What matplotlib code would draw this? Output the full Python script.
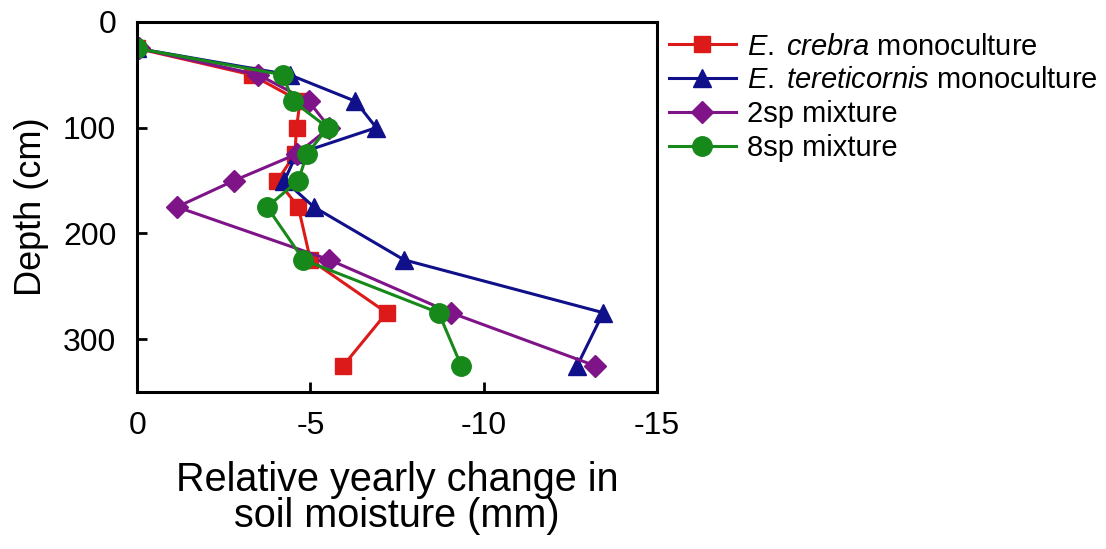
import numpy as np
import matplotlib
matplotlib.use('Agg')
import matplotlib.pyplot as plt

plt.rcParams['font.family'] = ['Liberation Sans', 'DejaVu Sans']
plt.rcParams['mathtext.fontset'] = 'custom'
plt.rcParams['mathtext.rm'] = 'Liberation Sans'
plt.rcParams['mathtext.it'] = 'Liberation Sans:italic'
plt.rcParams['axes.unicode_minus'] = False

depth = [25, 50, 75, 100, 125, 150, 175, 225, 275, 325]

crebra = [0, -3.3, -4.7, -4.6, -4.55, -4.05, -4.65, -5.0, -7.2, -5.95]
tereticornis = [0, -4.4, -6.3, -6.9, -4.6, -4.25, -5.1, -7.7, -13.45, -12.7]
mix2 = [-0.05, -3.5, -4.95, -5.55, -4.6, -2.8, -1.15, -5.55, -9.05, -13.2]
mix8 = [0, -4.2, -4.5, -5.5, -4.9, -4.65, -3.75, -4.8, -8.7, -9.35]

labels = [r'$\mathit{E.}\;\mathit{crebra}$ monoculture',
          r'$\mathit{E.}\;\mathit{tereticornis}$ monoculture',
          '2sp mixture', '8sp mixture']
colors = ['#dd1a1a', '#10108a', '#7f1488', '#17891a']
markers = ['s', '^', 'D', 'o']
msizes = [12, 13, 11, 14]

fig = plt.figure(figsize=(11.06, 5.49), dpi=100)
ax = fig.add_axes([0.124, 0.286, 0.47, 0.674])

series = [crebra, tereticornis, mix2, mix8]
for vals, lab, c, m, ms in zip(series, labels, colors, markers, msizes):
    ax.plot(vals, depth, color=c, marker=m, markersize=ms, lw=2.2, label=lab)

ax.set_xlim(0, -15)
ax.set_ylim(350, 0)
ax.set_xticks([0, -5, -10, -15])
ax.set_yticks([0, 100, 200, 300])
ax.tick_params(direction='in', length=7, width=2, labelsize=23)
ax.tick_params(axis='y', pad=15)
ax.tick_params(axis='x', pad=14)
for sp in ax.spines.values():
    sp.set_linewidth(2.2)

ax.set_ylabel('Depth (cm)', fontsize=26, labelpad=10)
ax.set_xlabel('Relative yearly change in\nsoil moisture (mm)', fontsize=28.5,
              labelpad=14, linespacing=0.95)

ax.legend(loc='upper left', bbox_to_anchor=(0.594, 0.962),
          bbox_transform=fig.transFigure, frameon=False, fontsize=21,
          handlelength=2.3, handletextpad=0.4, labelspacing=0.2,
          borderaxespad=0)

fig.savefig('out.png', dpi=100)
